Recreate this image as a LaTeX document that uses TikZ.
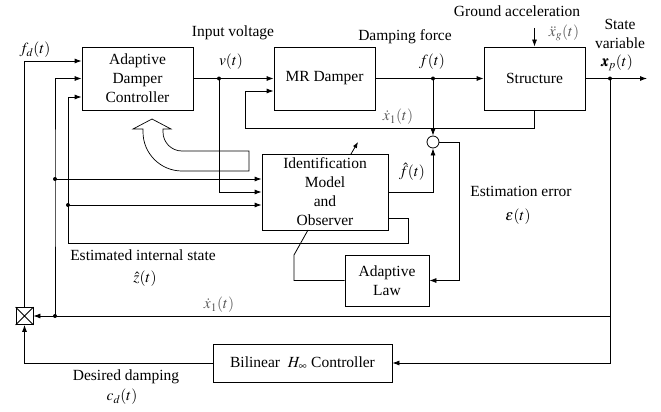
\documentclass[tikz,border=0pt]{standalone}
\usepackage{mathptmx}
\usepackage{bm}
\usepackage{fontspec}
\setmainfont{Liberation Serif}
\usetikzlibrary{arrows.meta,calc}
\begin{document}
\begin{tikzpicture}[x=1pt,y=-1pt,
  font=\fontsize{15.5}{19}\selectfont, line width=0.8pt,
  box/.style={draw, rectangle, inner sep=0pt, align=center},
  arr/.style={-{Latex[length=7pt,width=5pt]}},
  dot/.style={circle, fill, inner sep=0pt, minimum size=4pt},
  lbl/.style={inner sep=0pt, align=center},
  blur/.style={text=black!65}]
\useasboundingbox (0,0) rectangle (661,412);

% blocks
\node[box, minimum width=111pt, minimum height=63pt] (adc) at (137.5,78.5) {Adaptive\\Damper\\Controller};
\node[box, minimum width=101pt, minimum height=63pt] (mr) at (324.5,78.5) {MR Damper};
\node[box, minimum width=101pt, minimum height=63pt] (st) at (534.5,78.5) {Structure};
\node[box, minimum width=126pt, minimum height=76pt] (id) at (325,192) {Identification\\Model\\and\\Observer};
\node[box, minimum width=84pt, minimum height=51pt] (al) at (387,280.5) {Adaptive\\Law};
\node[box, minimum width=179pt, minimum height=38pt] (bl) at (302.5,363) {Bilinear \ $H_\infty$ Controller};
\node[circle, draw, minimum size=12pt, inner sep=0pt] (sum) at (433,142) {};
\node[draw, minimum size=17pt, inner sep=0pt] (sq) at (24.5,316) {};
\draw (sq.north west) -- (sq.south east) (sq.north east) -- (sq.south west);

% junction dots
\node[dot] (dv) at (219,78.5) {};
\node[dot] (df) at (433,78.5) {};
\node[dot] (dx) at (610,78.5) {};
\node[dot] (da) at (55,179) {};
\node[dot] (db) at (68,205) {};
\node[dot] (dc) at (55,316) {};

% helper coordinates
\coordinate (out) at (647,78.5);
\coordinate (ga) at (534.5,28);
\coordinate (c1) at (610,316);
\coordinate (c2) at (610,363);
\coordinate (z1) at (408,243);
\coordinate (z2) at (68,243);
\coordinate (x1a) at (534.5,128);
\coordinate (x1b) at (245,128);
\coordinate (e1) at (459,142);
\coordinate (p1) at (294,280.5);
\coordinate (p2) at (294,255);
\coordinate (p3) at (308,230);
\coordinate (q1) at (351,154);
\coordinate (q2) at (358,142);

% connectors
\draw[arr] (sq.north) |- ([yshift=17.5pt]adc.west);
\draw[arr] (dc.center) -- (da.center) |- (adc.west);
\draw[arr] (da.center) -- ([yshift=13pt]id.west);
\draw[arr] ([yshift=-26pt]id.east) -| (z1) -- (z2) |- ([yshift=-18.5pt]adc.west);
\draw[arr] (db.center) -- ([yshift=-13pt]id.west);
\draw[arr] (adc.east) -- (mr.west);
\draw[arr] (dv.center) |- (id.west);
\draw[arr] (mr.east) -- (st.west);
\draw[arr] (df.center) -- (sum.north);
\draw[arr] (st.south) -- (x1a) -- (x1b) |- ([yshift=-12.5pt]mr.west);
\draw[arr] (id.east) -| (sum.south);
\draw[arr] (sum.east) -- (e1) |- (al.east);
\draw (al.west) -- (p1) -- (p2) -- (p3);
\draw[-{Latex[length=6pt,width=4.5pt]}] (q1) -- (q2);
\draw[arr] (st.east) -- (out);
\draw[arr] (dx.center) -- (c2) -- (bl.east);
\draw[arr] (c1) -- (sq.east);
\draw[arr] (bl.west) -| (sq.south);
\draw[arr] (ga) -- (st.north);

% hollow curved arrow
\draw[line width=0.7pt] (249,151) -- (182,151)
  .. controls (171.5,151) and (163,142.5) .. (163,132)
  -- (163,129) -- (171,129) -- (152,119) -- (133,129) -- (143,129) -- (143,132)
  .. controls (143,153.5) and (160.5,171) .. (182,171)
  -- (249,171) -- cycle;

% labels
\node[lbl] (lfd) at (35,50) {$f_d(t)$};
\node[lbl] (lin) at (233,33) {Input voltage};
\node[lbl] (lv) at (231,62) {$v(t)$};
\node[lbl] (ldf) at (405,37) {Damping force};
\node[lbl] (lf) at (432,62) {$f(t)$};
\node[lbl] (lga) at (517,11) {Ground acceleration};
\node[lbl, blur] (lxg) at (564,33) {$\ddot{x}_g(t)$};
\node[lbl] (lsv) at (620,34) {State\\variable};
\node[lbl] (lxp) at (617,63) {$\bm{x}_p(t)$};
\node[lbl, blur] (lx1) at (398,117) {$\dot{x}_1(t)$};
\node[lbl] (lfh) at (412,172) {$\hat{f}(t)$};
\node[lbl] (lee) at (521,191) {Estimation error};
\node[lbl] (leps) at (518,217) {$\varepsilon(t)$};
\node[lbl] (leis) at (143,255) {Estimated internal state};
\node[lbl] (lz) at (145,279) {$\hat{z}(t)$};
\node[lbl, blur] (lx1b) at (219,305) {$\dot{x}_1(t)$};
\node[lbl] (ldd) at (126,377) {Desired damping};
\node[lbl] (lcd) at (122,397) {$c_d(t)$};
\end{tikzpicture}
\end{document}
